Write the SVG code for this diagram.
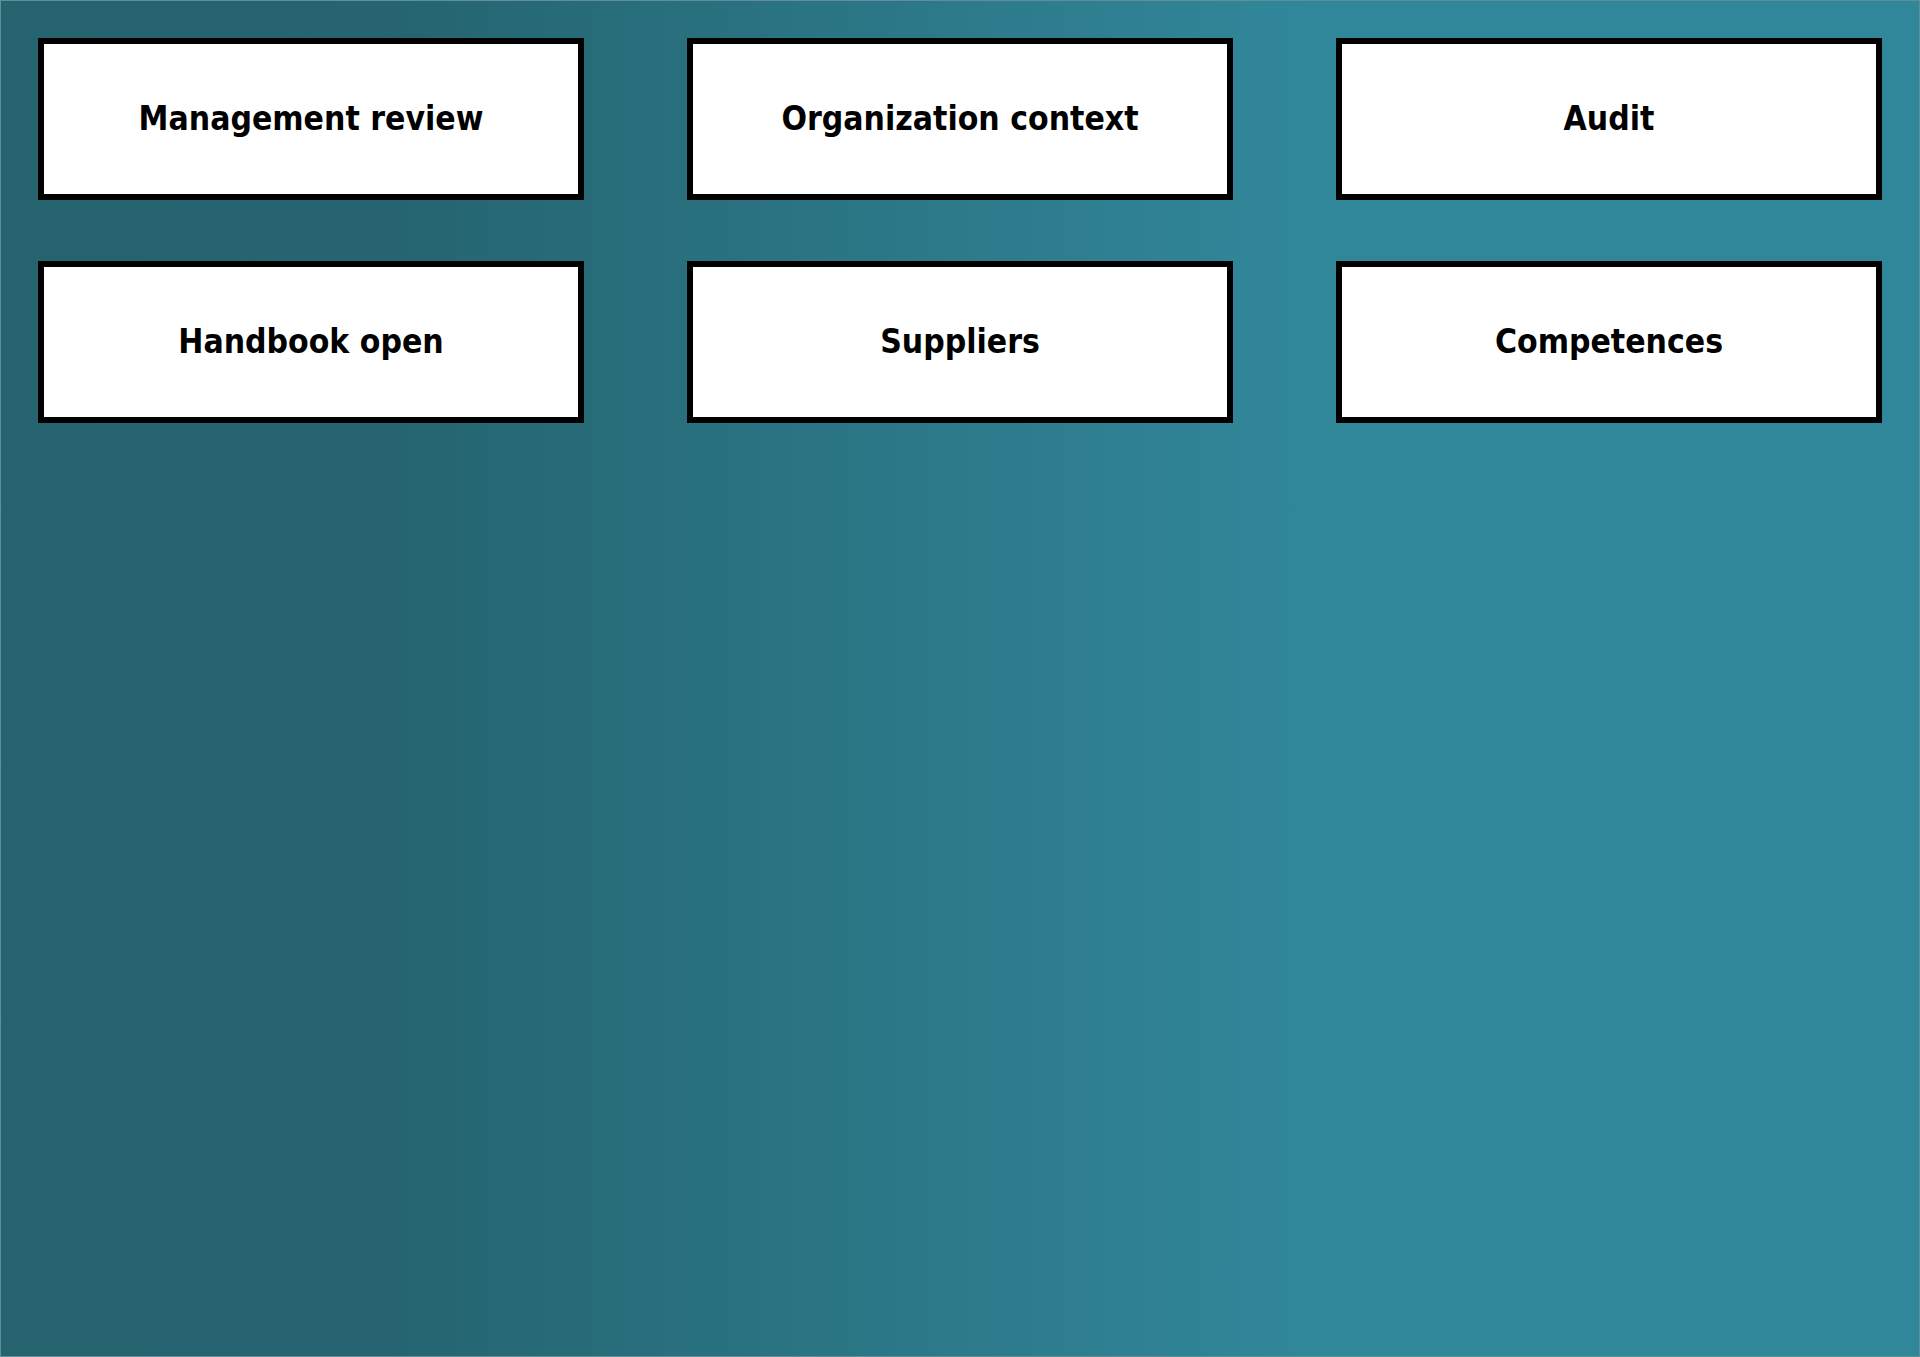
<svg xmlns="http://www.w3.org/2000/svg" width="1920" height="1357" viewBox="0 0 1920 1357">
<style>
.box{fill:#ffffff;stroke:#000000;stroke-width:6}
.lbl{font-family:"DejaVu Sans Condensed","DejaVu Sans",sans-serif;font-stretch:condensed;font-weight:bold;font-size:33.4px;fill:#000000;text-anchor:middle}
</style>
<defs>
<linearGradient id="bg" x1="0" y1="0" x2="1" y2="0">
<stop offset="0" stop-color="#25636f"/>
<stop offset="0.2" stop-color="#256470"/>
<stop offset="0.68" stop-color="#31879a"/>
<stop offset="1" stop-color="#31879a"/>
</linearGradient>
</defs>
<rect x="0.5" y="0.5" width="1919" height="1356" fill="url(#bg)" stroke="#5f8f9a" stroke-width="1"/>
<g id="connectors"></g>
<g id="node-management-review"><rect class="box" x="41" y="41" width="540" height="156"/><text class="lbl" x="311" y="130">Management review</text></g>
<g id="node-organization-context"><rect class="box" x="690" y="41" width="540" height="156"/><text class="lbl" x="960" y="130">Organization context</text></g>
<g id="node-audit"><rect class="box" x="1339" y="41" width="540" height="156"/><text class="lbl" x="1609" y="130">Audit</text></g>
<g id="node-handbook-open"><rect class="box" x="41" y="264" width="540" height="156"/><text class="lbl" x="311" y="353">Handbook open</text></g>
<g id="node-suppliers"><rect class="box" x="690" y="264" width="540" height="156"/><text class="lbl" x="960" y="353">Suppliers</text></g>
<g id="node-competences"><rect class="box" x="1339" y="264" width="540" height="156"/><text class="lbl" x="1609" y="353">Competences</text></g>
</svg>
